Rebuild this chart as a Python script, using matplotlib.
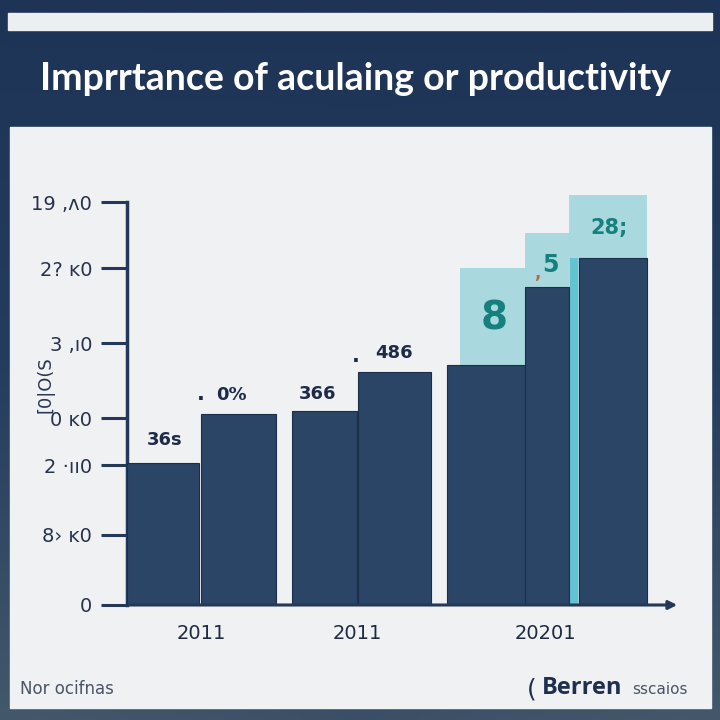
import numpy as np
import matplotlib
matplotlib.use("Agg")
import matplotlib.pyplot as plt
from matplotlib.patches import Rectangle
from matplotlib.colors import LinearSegmentedColormap

# ---- data ----
bar_values = [35.2, 47.4, 48.1, 57.8, 59.6, 78.9, 86.1]
highlight_tops = [83.6, 92.3, 101.7]          # light boxes behind bars 5,6,7
group_labels = ["2011", "2011", "20201"]
ytick_values = [0, 17.4, 34.7, 46.4, 65.0, 83.6, 100]
ytick_labels = ["0", "8› ĸ0", "2 ·ıı0", "0 ĸ0", "3 ,ı0", "2? ĸ0", "19 ,ʌ0"]
value_labels = ["36s", "0%", "366", "486", "8", "5", "28;"]

# ---- layout (pixel-based x scale of the axis) ----
bar_left = [0, 74, 165, 231, 320, 398, 452]
bar_width = [72, 75, 65, 73, 78, 44, 68]
hl_left = [333, 398, 442]
hl_width = [65, 44, 78]
strip_left, strip_width = 443, 8
group_centers = [74, 230, 418]

W = H = 720
fig = plt.figure(figsize=(7.2, 7.2), dpi=100)

# background gradient
bg = fig.add_axes([0, 0, 1, 1], zorder=-10)
cmap = LinearSegmentedColormap.from_list("bg", ["#1e3457", "#243c5e", "#44586b"])
grad = np.linspace(0, 1, 256).reshape(-1, 1)
xg = np.linspace(0, 1, 256).reshape(1, -1)
img = grad * 0.85 + 0.15 * np.abs(xg - 0.5) * 2 * grad
bg.imshow(img, cmap=cmap, aspect="auto", extent=[0, W, H, 0])
bg.set_xlim(0, W); bg.set_ylim(H, 0); bg.axis("off")
bg.add_patch(Rectangle((8, 13), 704, 17, color="#eceff1"))
bg.add_patch(Rectangle((10, 127), 701, 581, color="#eff1f2"))
bg.text(355, 79, "Imprrtance of aculaing or productivity", color="white",
        fontsize=27, fontweight="bold", family="Lato", ha="center", va="center")
bg.text(20, 689, "Nor ocifnas", color="#4a5468", fontsize=12, family="DejaVu Sans",
        ha="left", va="center")
bg.text(532, 689, "(", color="#1f2f4f", fontsize=18, ha="center", va="center")
bg.text(542, 688, "Berren", color="#1f2f4f", fontsize=17, fontweight="bold",
        family="Open Sans", ha="left", va="center")
bg.text(632, 689, "sscaios", color="#4a5468", fontsize=11, ha="left", va="center")
bg.text(46, 385, "[0|O(S", color="#2a3550", fontsize=13, rotation=90,
        ha="center", va="center")

# main axes: x spans pixel 127..680, y pixel 605..190
ax = fig.add_axes([127 / W, (H - 605) / H, (680 - 127) / W, (605 - 190) / H])
ax.set_facecolor("none")
ax.set_xlim(0, 553)
ax.set_ylim(0, 103)

navy = "#2b4566"
light = "#a9d8de"
for l, w, t in zip(hl_left, hl_width, highlight_tops):
    ax.bar(l, t, width=w, align="edge", color=light, zorder=1)
ax.bar(strip_left, bar_values[6], width=strip_width,
       align="edge", color="#62c3d2", zorder=2)
ax.bar(bar_left, bar_values, width=bar_width, align="edge", color=navy,
       edgecolor="#1c2e48", linewidth=0.8, zorder=3)

# axes styling
for s in ["top", "right"]:
    ax.spines[s].set_visible(False)
ax.spines["left"].set_bounds(0, 100)
ax.spines["left"].set_color("#24395a")
ax.spines["left"].set_linewidth(2.5)
ax.spines["bottom"].set_visible(False)
ax.annotate("", xy=(553, 0), xytext=(0, 0), xycoords="data",
            arrowprops=dict(arrowstyle="-|>,head_length=0.5,head_width=0.25",
                            color="#24395a", lw=2.2), zorder=5,
            annotation_clip=False)
ax.set_yticks(ytick_values)
ax.set_yticklabels(ytick_labels, fontsize=14, color="#27324d")
ax.tick_params(axis="y", length=19, width=2.2, color="#24395a", pad=6)
ax.set_xticks(group_centers)
ax.set_xticklabels(group_labels, fontsize=14, color="#1f2a40")
ax.tick_params(axis="x", length=0, pad=14)

# value labels
lab_color = "#1e2b48"
teal = "#16807e"
fs = 13
ax.text(bar_left[0] + 38, bar_values[0] + 4.5, value_labels[0], fontsize=fs,
        color=lab_color, ha="center", fontweight="semibold")
ax.text(bar_left[1] + 0, bar_values[1] + 3.5, ".", fontsize=15, color=lab_color,
        ha="center", fontweight="bold")
ax.text(bar_left[1] + 30, bar_values[1] + 3.5, value_labels[1], fontsize=fs,
        color=lab_color, ha="center", fontweight="semibold")
ax.text(bar_left[2] + 26, bar_values[2] + 3.0, value_labels[2], fontsize=fs,
        color=lab_color, ha="center", fontweight="semibold")
ax.text(bar_left[3] - 2, bar_values[3] + 2.5, ".", fontsize=15, color=lab_color,
        ha="center", fontweight="bold")
ax.text(bar_left[3] + 36, bar_values[3] + 3.5, value_labels[3], fontsize=fs,
        color=lab_color, ha="center", fontweight="semibold")
ax.text(bar_left[4] + 47, 71, value_labels[4], fontsize=28, color=teal,
        ha="center", va="center", fontweight="bold")
ax.text(bar_left[5] + 25, 84.5, value_labels[5], fontsize=17, color=teal,
        ha="center", va="center", fontweight="bold")
ax.text(bar_left[5] + 12, 82.5, ",", fontsize=12, color="#b86a3a",
        ha="center", va="center", fontweight="bold")
ax.text(bar_left[6] + 30, 93.5, value_labels[6], fontsize=15, color=teal,
        ha="center", va="center", fontweight="bold")

fig.savefig("out.png", dpi=100)
